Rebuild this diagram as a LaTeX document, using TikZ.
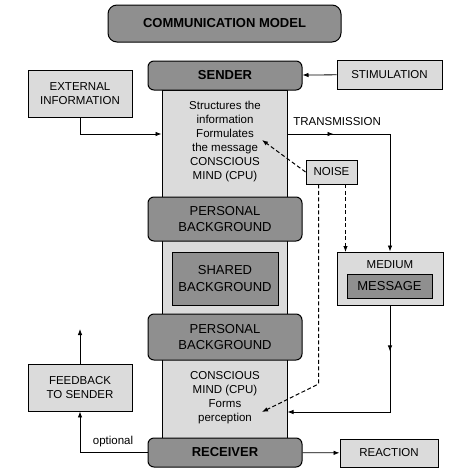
\documentclass[tikz,border=0pt]{standalone}
\usepackage{fontspec}
\setmainfont{Liberation Sans}
\usetikzlibrary{arrows.meta,decorations.markings}
\definecolor{bardark}{gray}{0.56}
\definecolor{boxlight}{gray}{0.86}

\begin{document}
\begin{tikzpicture}[x=1pt,y=-1pt,line width=0.8pt,
  title/.style={rectangle,draw,fill=bardark,rounded corners=9pt,line width=1pt,minimum width=233pt,minimum height=37pt,font=\fontsize{13}{16}\selectfont\bfseries},
  bar/.style={rectangle,draw,fill=bardark,rounded corners=6pt,line width=1pt,minimum width=154pt,align=center,font=\fontsize{13}{16.5}\selectfont},
  column/.style={rectangle,draw,fill=boxlight,line width=1pt,minimum width=125pt,minimum height=348pt},
  info/.style={rectangle,draw,fill=boxlight,line width=0.9pt,align=center,inner sep=0pt,font=\fontsize{11.5}{14}\selectfont},
  inner/.style={rectangle,draw,fill=bardark,line width=0.9pt,align=center,inner sep=0pt,font=\fontsize{13}{16.5}\selectfont},
  note/.style={align=center,inner sep=0pt,font=\fontsize{11.5}{14}\selectfont},
  arr/.style={-{Latex[length=6pt,width=4.5pt]}},
  noisy/.style={arr,line width=1pt,dash pattern=on 4pt off 2.5pt},
  midarr/.style={postaction={decorate},decoration={markings,mark=at position #1 with {\arrow{Latex[length=6pt,width=4.5pt]}}}}]
    \useasboundingbox (0,0) rectangle (474,474);
    % Title
    \node[title] (model) at (224.5,23.5) {COMMUNICATION MODEL};
    % Column
    \node[column] (body) at (224.5,264) {};
    \node[bar,minimum height=29pt,font=\fontsize{13}{16}\selectfont\bfseries] (sender) at (225,75.5) {SENDER};
    \node[note] (sendtext) at (225,142) {Structures the\\information\\Formulates\\the message\\CONSCIOUS\\MIND (CPU)};
    \node[bar,minimum height=44pt] (persA) at (225,219) {PERSONAL\\BACKGROUND};
    \node[inner,minimum width=106pt,minimum height=53pt] (shared) at (225,278.5) {SHARED\\BACKGROUND};
    \node[bar,minimum height=46pt] (persB) at (225,337) {PERSONAL\\BACKGROUND};
    \node[note] (rcvtext) at (225,398) {CONSCIOUS\\MIND (CPU)\\Forms\\perception};
    \node[bar,minimum height=29pt,font=\fontsize{13}{16}\selectfont\bfseries] (receiver) at (225,452.5) {RECEIVER};
    % Side boxes
    \node[info,minimum width=104pt,minimum height=47pt] (extinfo) at (80,93.5) {EXTERNAL\\INFORMATION};
    \node[info,minimum width=105pt,minimum height=29pt] (stim) at (389.5,74.5) {STIMULATION};
    \node[info,minimum width=51pt,minimum height=24pt] (noise) at (331.5,172) {NOISE};
    \node[info,minimum width=106pt,minimum height=53pt] (medium) at (390,278.5) {};
    \node[note] (mediumlbl) at (390,265) {MEDIUM};
    \node[inner,minimum width=85pt,minimum height=24pt] (message) at (389.5,286) {MESSAGE};
    \node[info,minimum width=104pt,minimum height=47pt] (feedback) at (80,387.5) {FEEDBACK\\TO SENDER};
    \node[info,minimum width=98pt,minimum height=28pt] (reaction) at (389,453) {REACTION};
    % Connectors
    \coordinate (tx) at (390,134);
    \coordinate (rx) at (390,412);
    \coordinate (sendmsg) at (262,140);
    \coordinate (rcvmsg) at (262,412);
    \coordinate (nbend) at (318.5,384);
    \coordinate (nmed) at (345.5,252);
    \coordinate (fbup) at (80,329);
    \draw[arr] (stim) -- (sender);
    \draw[arr] (extinfo.south) |- (body.west |- tx);
    \draw[arr,midarr=46pt] (body.east |- tx) -- (tx) -- (medium.north);
    \node[note,anchor=south west] (translbl) at (293,126) {TRANSMISSION};
    \draw[arr,midarr=46pt] (medium.south) -- (rx) -- (body.east |- rx);
    \draw[noisy] (noise.west) -- (sendmsg);
    \draw[noisy] (noise.south -| nbend) -- (nbend) -- (rcvmsg);
    \draw[noisy] (noise.south -| nmed) -- (nmed);
    \draw[arr] (receiver) -- (reaction);
    \draw[arr] (receiver.west) -| (feedback.south);
    \node[note] (optlbl) at (113,442) {optional};
    \draw[arr] (feedback.north) -- (fbup);
\end{tikzpicture}
\end{document}
